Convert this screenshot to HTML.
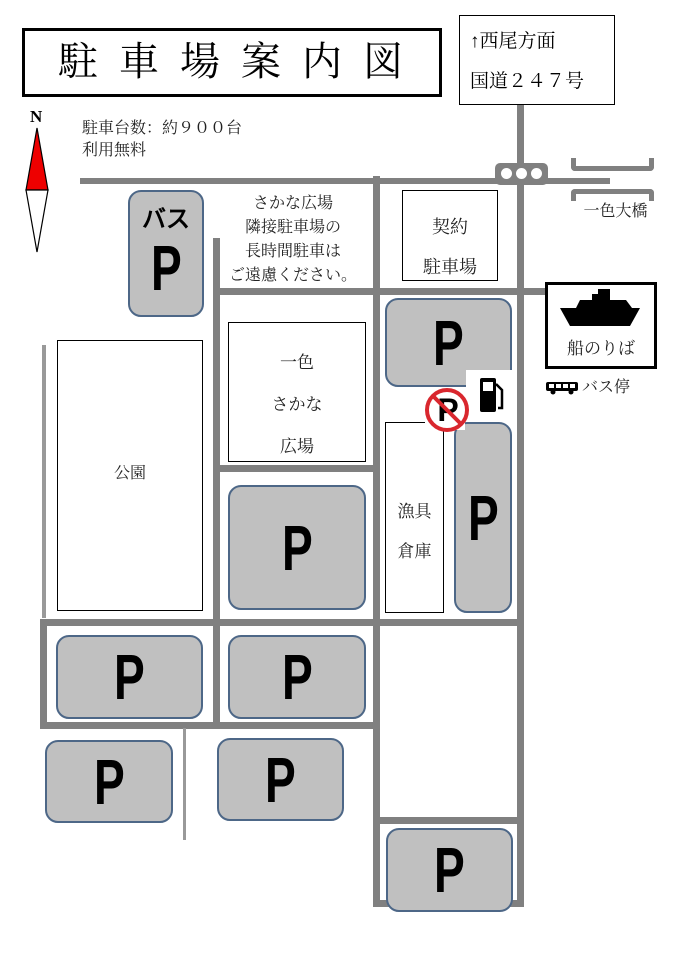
<!DOCTYPE html>
<html><head><meta charset="utf-8"><style>
body{margin:0;width:678px;height:960px;background:#fff;position:relative;overflow:hidden;font-family:"Liberation Serif","Noto Serif CJK SC","Noto Sans CJK JP",serif;}
div{position:absolute;box-sizing:border-box;}
.r{background:#808080;}
.p{background:#c0c0c0;border:2px solid #4d6787;border-radius:13px;display:flex;align-items:center;justify-content:center;}
.p span{font-family:"Liberation Sans",sans-serif;font-weight:bold;font-size:64px;transform:scaleX(0.72);color:#000;line-height:1;}
.b{border:1.5px solid #000;background:#fff;}
.t{font-size:17px;color:#222;text-align:center;line-height:1;}
</style></head><body>
<!-- roads -->
<div class="r" style="left:80px;top:178px;width:530px;height:6px"></div>
<div class="r" style="left:517px;top:104px;width:7px;height:802px"></div>
<div class="r" style="left:373px;top:176px;width:7px;height:730px"></div>
<div class="r" style="left:213px;top:288px;width:333px;height:7px"></div>
<div class="r" style="left:213px;top:238px;width:7px;height:490px"></div>
<div class="r" style="left:213px;top:465px;width:165px;height:7px"></div>
<div class="r" style="left:42px;top:345px;width:4px;height:273px;background:#999"></div>
<div class="r" style="left:40px;top:619px;width:484px;height:7px"></div>
<div class="r" style="left:40px;top:619px;width:7px;height:110px"></div>
<div class="r" style="left:40px;top:722px;width:340px;height:7px"></div>
<div class="r" style="left:183px;top:728px;width:3px;height:112px;background:#999"></div>
<div class="r" style="left:373px;top:817px;width:151px;height:7px"></div>
<div class="r" style="left:373px;top:900px;width:151px;height:7px"></div>

<!-- traffic light -->
<div style="left:495px;top:163px;width:53px;height:22px;background:#808080;border-radius:5px"></div>
<div style="left:499px;top:166px;width:15px;height:15px;border-radius:50%;background:#fff;border:2px solid #808080"></div>
<div style="left:514px;top:166px;width:15px;height:15px;border-radius:50%;background:#fff;border:2px solid #808080"></div>
<div style="left:529px;top:166px;width:15px;height:15px;border-radius:50%;background:#fff;border:2px solid #808080"></div>
<!-- bridge -->
<div style="left:571px;top:158px;width:83px;height:13px;border:5px solid #808080;border-top:none;border-radius:0 0 4px 4px"></div>
<div style="left:571px;top:189px;width:83px;height:12px;border:5px solid #808080;border-bottom:none;border-radius:4px 4px 0 0"></div>
<div class="t" style="left:568px;top:204px;width:95px;font-size:16px">一色大橋</div>

<!-- title -->
<div style="left:22px;top:28px;width:420px;height:69px;border:3px solid #000"></div>
<div style="left:22px;top:38px;width:420px;text-align:center;font-size:40px;letter-spacing:21px;padding-left:18px;line-height:48px">駐車場案内図</div>
<!-- sign -->
<div class="b" style="left:459px;top:15px;width:156px;height:90px"></div>
<div style="left:470px;top:32px;font-size:19px;line-height:1">↑西尾方面</div>
<div style="left:470px;top:72px;font-size:19px;line-height:1">国道２４７号</div>

<!-- compass -->
<div style="left:30px;top:108px;font-size:17px;font-weight:bold;line-height:1">N</div>
<svg style="position:absolute;left:20px;top:125px" width="34" height="132"><polygon points="17,3 6,65 28,65" fill="#e00" stroke="#000" stroke-width="1.2"/><polygon points="6,65 28,65 17,127" fill="#fff" stroke="#000" stroke-width="1.2"/></svg>
<div style="left:82px;top:118px;font-size:16px;line-height:22px;color:#222">駐車台数：約９００台<br>利用無料</div>

<!-- notice -->
<div class="t" style="left:218px;top:192px;width:150px;font-size:16px;line-height:24px">さかな広場<br>隣接駐車場の<br>長時間駐車は<br>ご遠慮ください。</div>

<!-- white boxes -->
<div class="b" style="left:402px;top:190px;width:96px;height:91px"></div>
<div class="t" style="left:402px;top:207px;width:96px;line-height:40px;font-size:18px">契約<br>駐車場</div>
<div class="b" style="left:228px;top:322px;width:138px;height:140px"></div>
<div class="t" style="left:228px;top:342px;width:138px;line-height:42px;font-size:17px">一色<br>さかな<br>広場</div>
<div class="b" style="left:57px;top:340px;width:146px;height:271px"></div>
<div class="t" style="left:57px;top:466px;width:146px;font-size:16px">公園</div>
<div class="b" style="left:385px;top:422px;width:59px;height:191px"></div>
<div class="t" style="left:385px;top:492px;width:59px;line-height:40px;font-size:17px">漁具<br>倉庫</div>

<!-- ferry -->
<div style="left:545px;top:282px;width:112px;height:87px;border:3px solid #000"></div>
<svg style="position:absolute;left:558px;top:288px" width="84" height="40"><path d="M2 20 L82 20 L72 38 L12 38 Z M18 20 L22 12 L34 12 L34 6 L40 6 L40 1 L52 1 L52 12 L68 12 L74 20 Z" fill="#000"/></svg>
<div class="t" style="left:545px;top:340px;width:112px;font-size:17px">船のりば</div>
<svg style="position:absolute;left:545px;top:381px" width="34" height="14"><rect x="1" y="1" width="32" height="9" rx="2" fill="#000"/><rect x="4" y="3" width="5" height="4" fill="#fff"/><rect x="11" y="3" width="5" height="4" fill="#fff"/><rect x="18" y="3" width="5" height="4" fill="#fff"/><rect x="25" y="3" width="5" height="4" fill="#fff"/><circle cx="8" cy="11" r="2.5" fill="#000"/><circle cx="26" cy="11" r="2.5" fill="#000"/></svg>
<div class="t" style="left:582px;top:380px;font-size:16px;text-align:left">バス停</div>

<!-- parking -->
<div class="p" style="left:128px;top:190px;width:76px;height:127px;flex-direction:column"><span style="font-size:24px;transform:none;margin-bottom:4px">バス</span><span>P</span></div>
<div class="p" style="left:385px;top:298px;width:127px;height:89px"><span>P</span></div>
<div style="left:466px;top:370px;width:48px;height:60px;background:#fff"></div>
<div class="p" style="left:454px;top:422px;width:58px;height:191px"><span>P</span></div>
<div class="p" style="left:228px;top:485px;width:138px;height:125px"><span>P</span></div>
<div class="p" style="left:56px;top:635px;width:147px;height:84px"><span>P</span></div>
<div class="p" style="left:228px;top:635px;width:138px;height:84px"><span>P</span></div>
<div class="p" style="left:45px;top:740px;width:128px;height:83px"><span>P</span></div>
<div class="p" style="left:217px;top:738px;width:127px;height:83px"><span>P</span></div>
<div class="p" style="left:386px;top:828px;width:127px;height:84px"><span>P</span></div>

<!-- no parking + gas -->
<div style="left:425px;top:388px;width:40px;height:42px;background:#fff"></div>
<div style="left:430px;top:388px;width:36px;text-align:center;font-family:'Liberation Sans',sans-serif;font-weight:bold;font-size:32px;line-height:44px">P</div>
<svg style="position:absolute;left:423px;top:386px" width="48" height="48"><circle cx="24" cy="24" r="20" fill="none" stroke="#d9272e" stroke-width="4"/><line x1="10" y1="10" x2="38" y2="38" stroke="#d9272e" stroke-width="4"/></svg>
<svg style="position:absolute;left:478px;top:376px" width="30" height="38"><rect x="2" y="2" width="16" height="34" rx="2" fill="#000"/><rect x="5" y="6" width="10" height="9" fill="#fff"/><path d="M18 8 L24 14 L24 32 L20 32" fill="none" stroke="#000" stroke-width="2.5"/></svg>
</body></html>
